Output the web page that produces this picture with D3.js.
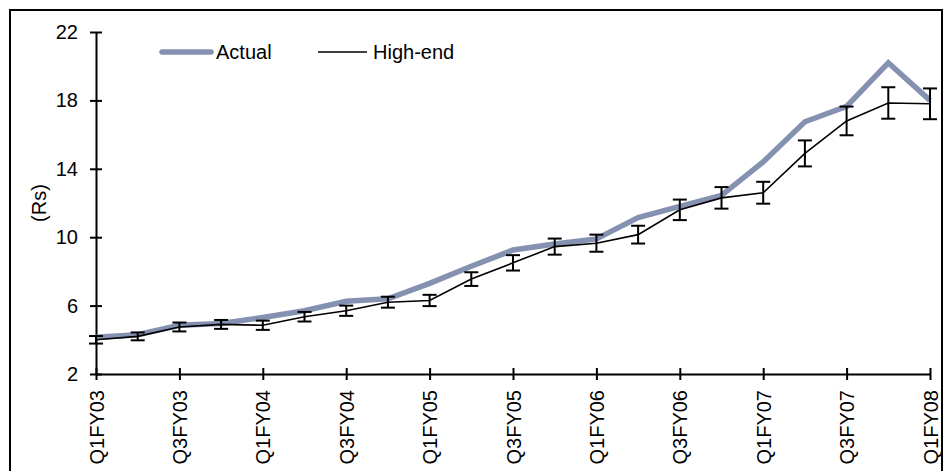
<!DOCTYPE html>
<html>
<head>
<meta charset="utf-8">
<script src="https://cdn.jsdelivr.net/npm/d3@7"></script>
<style>
  html, body { margin: 0; padding: 0; background: #fff; }
  svg text { font-family: "Liberation Sans", Arial, sans-serif; fill: #000; }
</style>
</head>
<body>
<svg id="chart" width="944" height="471"></svg>
<script>
const quarters = ["Q1FY03","Q2FY03","Q3FY03","Q4FY03","Q1FY04","Q2FY04","Q3FY04","Q4FY04",
  "Q1FY05","Q2FY05","Q3FY05","Q4FY05","Q1FY06","Q2FY06","Q3FY06","Q4FY06",
  "Q1FY07","Q2FY07","Q3FY07","Q4FY07","Q1FY08"];
const actual = [4.15,4.3,4.85,4.95,5.3,5.7,6.25,6.4,7.3,8.3,9.25,9.6,9.9,11.15,11.8,12.45,14.4,16.75,17.65,20.2,18.0];
const highEnd = [4.0,4.2,4.75,4.9,4.85,5.35,5.7,6.2,6.3,7.55,8.5,9.45,9.65,10.15,11.6,12.3,12.6,14.9,16.8,17.85,17.8];
const highEndErr = [0.22,0.23,0.26,0.26,0.27,0.28,0.3,0.32,0.33,0.4,0.45,0.47,0.5,0.52,0.6,0.63,0.64,0.76,0.84,0.92,0.9];
const xTickLabels = ["Q1FY03","Q3FY03","Q1FY04","Q3FY04","Q1FY05","Q3FY05","Q1FY06","Q3FY06","Q1FY07","Q3FY07","Q1FY08"];
const yTicks = [2,6,10,14,18,22];
const seriesNames = ["Actual","High-end"];

const svg = d3.select("#chart");
const fontSize = 20;

// outer frame
svg.append("rect").attr("x",10).attr("y",10).attr("width",932).attr("height",480)
  .attr("fill","none").attr("stroke","#000").attr("stroke-width",2);

const x = d3.scalePoint().domain(quarters).range([96, 930]);
const y = d3.scaleLinear().domain([2,22]).range([374, 32]);

// y axis
const yAxis = svg.append("g").attr("transform","translate(96,0)")
  .call(d3.axisLeft(y).tickValues(yTicks).tickSize(6).tickPadding(12).tickSizeOuter(0));
yAxis.select(".domain").attr("stroke","#000").attr("stroke-width",2);
yAxis.selectAll(".tick line").attr("x1",-6).attr("x2",6).attr("stroke","#000").attr("stroke-width",2);
yAxis.selectAll(".tick text").style("font-size",fontSize+"px")
  .style("font-family","'Liberation Sans', Arial, sans-serif").attr("fill","#000");

// x axis
const xAxis = svg.append("g").attr("transform","translate(0,374)")
  .call(d3.axisBottom(x).tickValues(xTickLabels).tickSize(6).tickSizeOuter(0));
xAxis.select(".domain").attr("stroke","#000").attr("stroke-width",2);
xAxis.selectAll(".tick line").attr("y1",-6).attr("y2",6).attr("stroke","#000").attr("stroke-width",2);
xAxis.selectAll(".tick text")
  .style("font-size",fontSize+"px")
  .style("font-family","'Liberation Sans', Arial, sans-serif")
  .attr("fill","#000")
  .attr("transform","rotate(-90)")
  .attr("text-anchor","end")
  .attr("dy","0.35em")
  .attr("x",-16)
  .attr("y",0);

// y title
svg.append("text").attr("transform","translate(39,203) rotate(-90)")
  .attr("text-anchor","middle").attr("dy","0.35em")
  .style("font-size",fontSize+"px").text("(Rs)");

// actual line
const line = d3.line().x((d,i)=>x(quarters[i])).y(d=>y(d));
svg.append("path").datum(actual).attr("d",line)
  .attr("fill","none").attr("stroke","#8591b0").attr("stroke-width",5.5)
  .attr("stroke-linejoin","miter");

// high-end line
svg.append("path").datum(highEnd).attr("d",line)
  .attr("fill","none").attr("stroke","#000").attr("stroke-width",1.6);

// error bars
const cap = 7;
const eb = svg.append("g").attr("stroke","#000").attr("stroke-width",2);
highEnd.forEach((v,i)=>{
  const cx = x(quarters[i]);
  const y0 = y(v - highEndErr[i]), y1 = y(v + highEndErr[i]);
  eb.append("line").attr("x1",cx).attr("x2",cx).attr("y1",y0).attr("y2",y1);
  eb.append("line").attr("x1",cx-cap).attr("x2",cx+cap).attr("y1",y0).attr("y2",y0);
  eb.append("line").attr("x1",cx-cap).attr("x2",cx+cap).attr("y1",y1).attr("y2",y1);
});

// legend
const lg = svg.append("g");
lg.append("line").attr("x1",162).attr("x2",211).attr("y1",52).attr("y2",52)
  .attr("stroke","#8591b0").attr("stroke-width",5.5).attr("stroke-linecap","round");
lg.append("text").attr("x",216).attr("y",52).attr("dy","0.35em")
  .style("font-size",fontSize+"px").text(seriesNames[0]);
lg.append("line").attr("x1",318).attr("x2",367).attr("y1",52).attr("y2",52)
  .attr("stroke","#000").attr("stroke-width",1.6);
lg.append("text").attr("x",373).attr("y",52).attr("dy","0.35em")
  .style("font-size",fontSize+"px").text(seriesNames[1]);
</script>
</body>
</html>
